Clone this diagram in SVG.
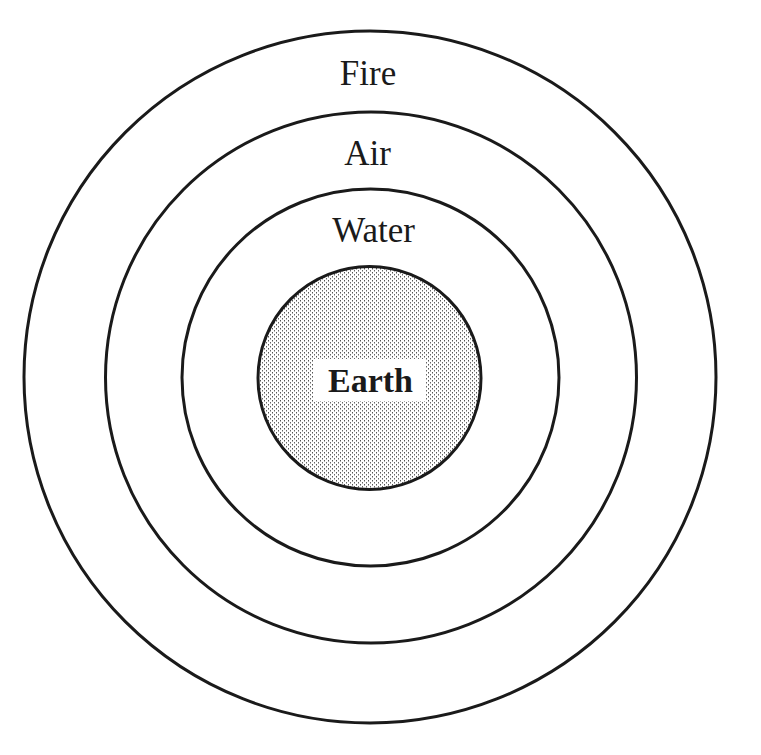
<svg xmlns="http://www.w3.org/2000/svg" width="761" height="755" viewBox="0 0 761 755">
<style>
.ring{fill:none;stroke:#1a1a1a;stroke-width:3}
.lbl{font-family:"Liberation Serif","Times New Roman",serif;font-size:35px;fill:#1a1a1a;text-anchor:middle}
.bold{font-weight:bold;font-size:34px}
</style>
<defs>
<pattern id="stip" width="4" height="4" patternUnits="userSpaceOnUse">
<rect width="4" height="4" fill="#ffffff"/>
<rect x="0" y="0" width="1" height="1.5" fill="#555"/>
<rect x="2" y="2" width="1" height="1.5" fill="#666"/>
</pattern>
</defs>
<rect width="761" height="755" fill="#ffffff"/>
<g id="fire">
<circle class="ring" cx="370" cy="377" r="346" stroke-width="3.5"/>
<text class="lbl" x="368" y="85">Fire</text>
</g>
<g id="air">
<circle class="ring" cx="371" cy="377.5" r="265.5"/>
<text class="lbl" x="367.5" y="165">Air</text>
</g>
<g id="water">
<circle class="ring" cx="370.5" cy="377.5" r="188.5"/>
<text class="lbl" x="373.5" y="242">Water</text>
</g>
<g id="earth">
<circle cx="369.5" cy="378" r="111.5" fill="url(#stip)" stroke="#1a1a1a" stroke-width="3"/>
<rect x="313" y="359" width="112" height="42" fill="#ffffff"/>
<text class="lbl bold" x="370.5" y="392">Earth</text>
</g>
<g id="connectors"/>
</svg>
